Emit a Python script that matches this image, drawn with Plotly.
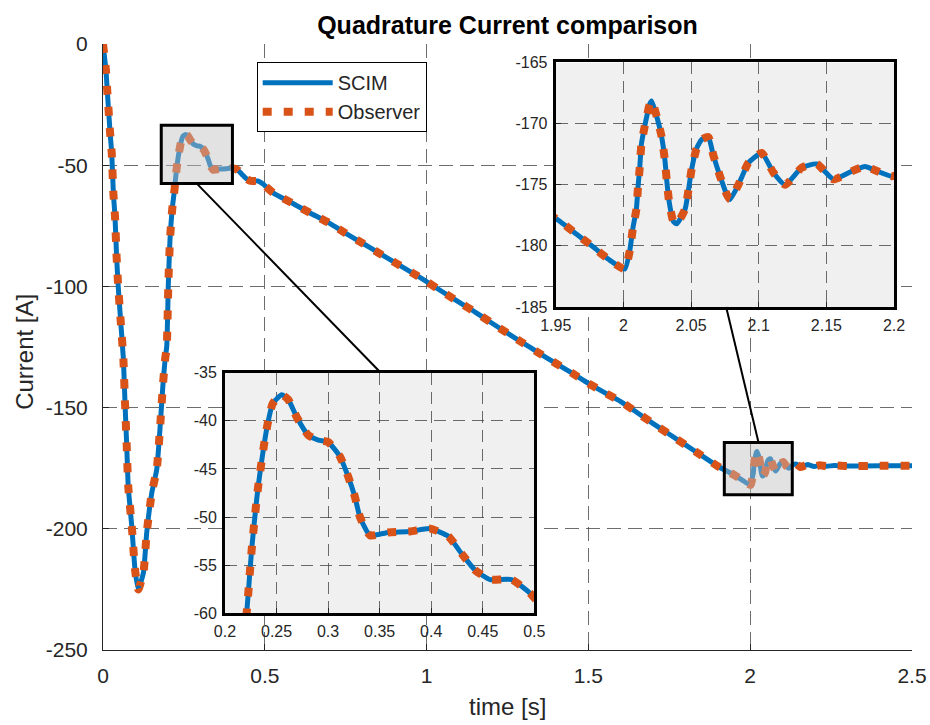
import plotly.graph_objects as go

# ---------------- data ----------------
time_s = [
    0.000, 0.009, 0.013, 0.022, 0.027, 0.032, 0.037, 0.042, 0.047, 0.055,
    0.063, 0.068, 0.073, 0.078, 0.089, 0.099, 0.109, 0.125, 0.135, 0.151,
    0.166, 0.176, 0.185, 0.192, 0.197, 0.202, 0.207, 0.214,
    0.2210, 0.2228, 0.2245, 0.2262, 0.2280, 0.2300, 0.2322, 0.2350, 0.2380,
    0.2414, 0.2463, 0.2550, 0.2614, 0.2695, 0.2808, 0.2905, 0.3000, 0.3114,
    0.3195, 0.3260, 0.3309, 0.3406, 0.3584, 0.3794, 0.3988, 0.4166, 0.4295,
    0.4424, 0.4570, 0.4780, 0.4957, 0.5000,
    0.527, 0.584, 0.640, 0.698, 0.749, 0.801, 0.852, 0.904, 0.956, 1.000,
    1.05, 1.10, 1.15, 1.20, 1.25, 1.30, 1.35, 1.40, 1.45, 1.50, 1.55, 1.60,
    1.65, 1.70, 1.75, 1.80, 1.85, 1.90,
    1.9532, 1.9655, 1.9778, 1.9890, 2.0010, 2.0047, 2.0071, 2.0096, 2.0108,
    2.0121, 2.0133, 2.0158, 2.0195, 2.0209, 2.0246, 2.0283, 2.0308, 2.0320,
    2.0337, 2.0369, 2.0394, 2.0456, 2.0480, 2.0505, 2.0542, 2.0579, 2.0628,
    2.0665, 2.0714, 2.0764, 2.0788, 2.0850, 2.0874, 2.0924, 2.1022, 2.1108,
    2.1195, 2.1318, 2.1429, 2.1552, 2.1687, 2.1786, 2.1835, 2.1983,
    2.215, 2.235, 2.260, 2.300, 2.400, 2.500,
]
scim_current = [
    0.0, -10.6, -18.9, -36.7, -45.0, -61.5, -71.0, -87.6, -100.0, -115.0,
    -130.0, -148.0, -164.6, -182.5, -199.0, -216.9, -225.0, -218.0, -201.7, -185.0,
    -175.6, -159.0, -141.0, -130.0, -124.7, -98.6, -80.7, -68.0,
    -60.0, -57.6, -55.2, -53.0, -51.0, -48.9, -46.8, -44.6, -42.4,
    -40.3, -38.2, -37.3, -37.8, -39.6, -41.5, -42.0, -42.2, -43.7,
    -45.8, -47.9, -50.0, -51.9, -51.6, -51.5, -51.2, -52.0, -53.8,
    -55.5, -56.5, -56.5, -57.9, -58.4,
    -61.5, -65.6, -69.7, -73.8, -78.0, -82.1, -86.2, -90.3, -94.4, -98.0,
    -102.3, -106.5, -110.6, -115.0, -119.3, -123.5, -127.7, -131.8, -135.8, -140.0, -143.8, -147.5,
    -152.0, -156.6, -161.0, -165.4, -169.8, -174.2,
    -178.0, -179.05, -180.1, -181.1, -181.9, -180.4, -178.5, -177.0, -175.2,
    -173.6, -171.7, -170.2, -168.4, -168.15, -169.4, -171.1, -173.1, -174.6,
    -176.3, -178.0, -178.2, -177.0, -175.5, -173.7, -172.0, -171.3, -171.1,
    -172.6, -174.3, -175.8, -176.2, -175.0, -174.4, -173.2, -172.4, -174.0,
    -175.0, -173.6, -173.3, -174.55, -173.9, -173.5, -173.7, -174.3,
    -173.8, -174.2, -173.9, -174.1, -174.0, -174.0,
]
observer_current = list(scim_current)  # the observer overlays the SCIM curve

series_names = ["SCIM", "Observer"]

main_xticks = [0, 0.5, 1, 1.5, 2, 2.5]
main_xticktext = ["0", "0.5", "1", "1.5", "2", "2.5"]
main_yticks = [0, -50, -100, -150, -200, -250]
main_yticktext = ["0", "-50", "-100", "-150", "-200", "-250"]
main_xrange = [0, 2.5]
main_yrange = [-250, 0]

zoomA_xticks = [0.2, 0.25, 0.3, 0.35, 0.4, 0.45, 0.5]
zoomA_xticktext = ["0.2", "0.25", "0.3", "0.35", "0.4", "0.45", "0.5"]
zoomA_yticks = [-35, -40, -45, -50, -55, -60]
zoomA_yticktext = ["-35", "-40", "-45", "-50", "-55", "-60"]
zoomA_xrange = [0.2, 0.5]
zoomA_yrange = [-60, -35]

zoomB_xticks = [1.95, 2.0, 2.05, 2.1, 2.15, 2.2]
zoomB_xticktext = ["1.95", "2", "2.05", "2.1", "2.15", "2.2"]
zoomB_yticks = [-165, -170, -175, -180, -185]
zoomB_yticktext = ["-165", "-170", "-175", "-180", "-185"]
zoomB_xrange = [1.95, 2.2]
zoomB_yrange = [-185, -165]

# marked zoom windows on the main axes and leader lines (main-axis data units)
markA_x = [0.18, 0.40]
markA_y = [-57.5, -33.5]
markB_x = [1.92, 2.13]
markB_y = [-186.0, -164.4]
leaderA = [0.29, -57.6, 0.8576, -135.5]
leaderB = [2.0257, -164.4, 1.9257, -108.5]

# ---------------- figure ----------------
FONT = "Liberation Sans, Arial, sans-serif"
BLUE = "#0072BD"
ORANGE = "#D95319"
GRID = "rgba(60,60,60,0.75)"
TXT = "#262626"

fig = go.Figure()

for xa, ya, show in [("x", "y", True), ("x2", "y2", False), ("x3", "y3", False)]:
    fig.add_trace(go.Scatter(
        x=time_s, y=scim_current, name=series_names[0], mode="lines",
        line=dict(color=BLUE, width=5, shape="spline", smoothing=0.5),
        xaxis=xa, yaxis=ya, showlegend=show))
    fig.add_trace(go.Scatter(
        x=time_s, y=observer_current, name=series_names[1], mode="lines",
        line=dict(color=ORANGE, width=8, dash="9px,12px", shape="spline", smoothing=0.5),
        xaxis=xa, yaxis=ya, showlegend=show))

shapes = [
    # opaque inset backgrounds (drawn in the inset subplot, under its grid)
    dict(type="rect", xref="x2", yref="y2", x0=zoomB_xrange[0], x1=zoomB_xrange[1],
         y0=zoomB_yrange[0], y1=zoomB_yrange[1], fillcolor="#f0f0f0",
         line=dict(width=0), layer="below"),
    dict(type="rect", xref="x3", yref="y3", x0=zoomA_xrange[0], x1=zoomA_xrange[1],
         y0=zoomA_yrange[0], y1=zoomA_yrange[1], fillcolor="#f0f0f0",
         line=dict(width=0), layer="below"),
    # zoom markers on the main axes
    dict(type="rect", xref="x", yref="y", x0=markA_x[0], x1=markA_x[1],
         y0=markA_y[0], y1=markA_y[1], fillcolor="rgba(190,190,190,0.45)",
         line=dict(color="black", width=3), layer="above"),
    dict(type="rect", xref="x", yref="y", x0=markB_x[0], x1=markB_x[1],
         y0=markB_y[0], y1=markB_y[1], fillcolor="rgba(190,190,190,0.45)",
         line=dict(color="black", width=3), layer="above"),
    dict(type="line", xref="x", yref="y", x0=leaderA[0], y0=leaderA[1],
         x1=leaderA[2], y1=leaderA[3], line=dict(color="black", width=2), layer="above"),
    dict(type="line", xref="x", yref="y", x0=leaderB[0], y0=leaderB[1],
         x1=leaderB[2], y1=leaderB[3], line=dict(color="black", width=2), layer="above"),
]


def main_axis(tickvals, ticktext, rng, **kw):
    return dict(range=rng, tickmode="array", tickvals=tickvals, ticktext=ticktext,
                showgrid=True, gridcolor=GRID, griddash="14px,7px", gridwidth=1,
                zeroline=False, showline=True, linecolor=TXT, linewidth=1, mirror=False,
                ticks="inside", ticklen=6, tickcolor=TXT, automargin=False,
                tickfont=dict(family=FONT, size=21, color=TXT), **kw)


def inset_axis(tickvals, ticktext, rng, domain, anchor):
    return dict(range=rng, domain=domain, anchor=anchor, tickmode="array",
                tickvals=tickvals, ticktext=ticktext,
                showgrid=True, gridcolor=GRID, griddash="12px,7px", gridwidth=1,
                zeroline=False, showline=True, linecolor="black", linewidth=3, mirror=True,
                ticks="inside", ticklen=5, tickcolor=TXT, automargin=False,
                tickfont=dict(family=FONT, size=16, color=TXT), ticklabelstandoff=2)


fig.update_layout(
    width=930, height=725,
    margin=dict(l=103, r=18, t=44, b=75, autoexpand=False),
    paper_bgcolor="white", plot_bgcolor="white",
    font=dict(family=FONT, color=TXT),
    title=dict(text="Quadrature Current comparison", x=0.5, xref="paper", xanchor="center",
               y=1 - 25 / 725, yanchor="middle",
               font=dict(family=FONT, size=25, color="black", weight="bold")),
    xaxis=main_axis(main_xticks, main_xticktext, main_xrange, ticklabelstandoff=7),
    yaxis=main_axis(main_yticks, main_yticktext, main_yrange, ticklabelstandoff=10),
    xaxis2=inset_axis(zoomB_xticks, zoomB_xticktext, zoomB_xrange, [0.5596, 0.9778], "y2"),
    yaxis2=inset_axis(zoomB_yticks, zoomB_yticktext, zoomB_yrange, [0.566, 0.9695], "x2"),
    xaxis3=inset_axis(zoomA_xticks, zoomA_xticktext, zoomA_xrange, [0.1508, 0.5331], "y3"),
    yaxis3=inset_axis(zoomA_yticks, zoomA_yticktext, zoomA_yrange, [0.0606, 0.4576], "x3"),
    legend=dict(x=0.19, y=0.97, xanchor="left", yanchor="top",
                bgcolor="white", bordercolor="black", borderwidth=1,
                font=dict(family=FONT, size=20, color=TXT), itemwidth=70,
                tracegroupgap=0),
    shapes=shapes,
    annotations=[
        dict(text="time [s]", xref="paper", yref="paper", x=0.5, y=(650 - 706) / 606,
             xanchor="center", yanchor="middle", showarrow=False,
             font=dict(family=FONT, size=24, color=TXT)),
        dict(text="Current [A]", xref="paper", yref="paper", x=(25 - 103) / 809, y=0.492,
             xanchor="center", yanchor="middle", showarrow=False, textangle=-90,
             font=dict(family=FONT, size=24, color=TXT)),
    ],
    showlegend=True,
)

fig.write_html("out.html")
